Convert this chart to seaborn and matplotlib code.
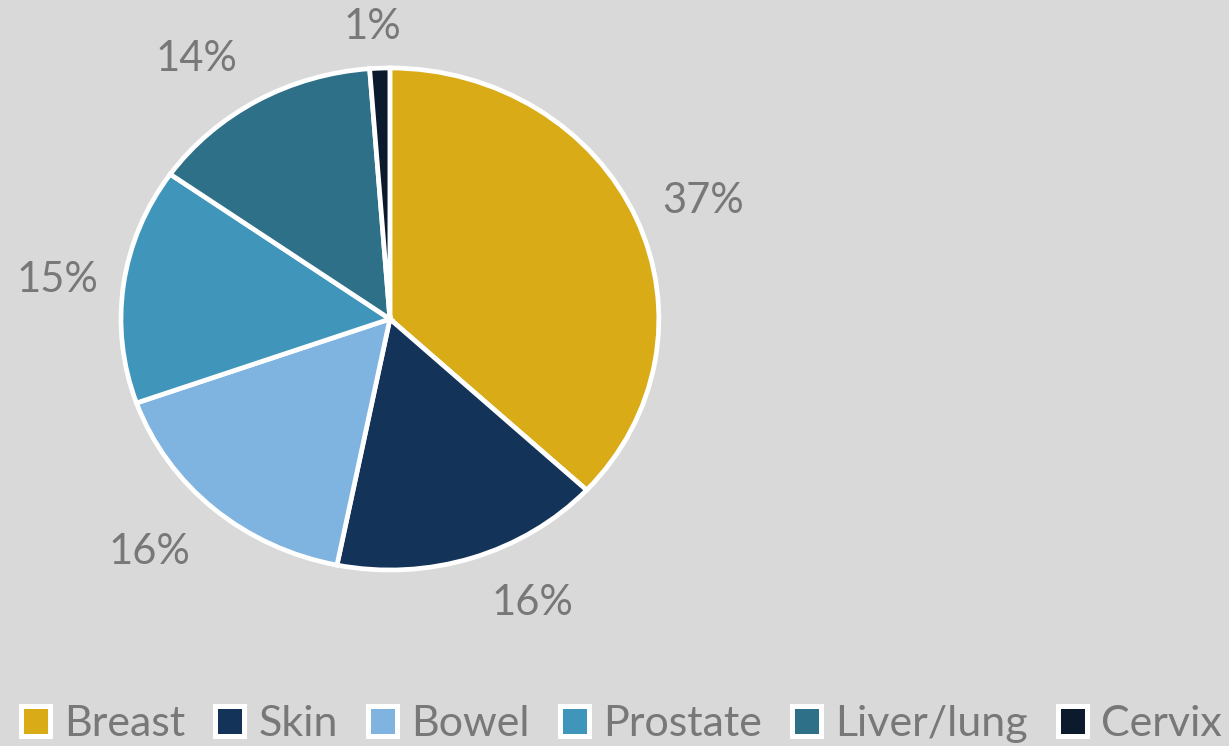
import numpy as np
import matplotlib
matplotlib.use("Agg")
import matplotlib.pyplot as plt
from matplotlib.patches import Patch
import seaborn as sns

# Share of cases by cancer type (percent)
categories = ["Breast", "Skin", "Bowel", "Prostate", "Liver/lung", "Cervix"]
shares = [36.9, 16.2, 16.4, 15.2, 14.0, 1.2]
colors = ["#D8AB17", "#133359", "#7FB3E0", "#4096BA", "#2E7088", "#0C1A2E"]

BG = "#D9D9D9"
TEXT = "#787878"

sns.set_theme(style="white", rc={"figure.facecolor": BG, "axes.facecolor": BG})
plt.rcParams["font.family"] = ["Lato", "DejaVu Sans"]

palette = sns.color_palette(colors)

fig = plt.figure(figsize=(12.29, 7.46), dpi=100)
ax = fig.add_axes([0.0109, 0.1518, 0.6127, 0.8412])

wedges, texts, autotexts = ax.pie(
    shares,
    colors=palette,
    startangle=90,
    counterclock=False,
    autopct="%.0f%%",
    pctdistance=1.25,
    wedgeprops={"edgecolor": "white", "linewidth": 3.4},
    textprops={"color": TEXT, "fontsize": 30},
)

# label placement: radial distance and angular nudge (degrees, clockwise) per slice
label_dist = [1.255, 1.25, 1.29, 1.247, 1.26, 1.165]
label_nudge = [1.6, -7.3, 3.0, -0.6, -5.2, -1.1]
total = sum(shares)
start = 0.0
for t, v, r, d in zip(autotexts, shares, label_dist, label_nudge):
    mid = 360.0 * (start + v / 2) / total + d   # clockwise from 12 o'clock
    a = np.deg2rad(mid)
    t.set_position((r * np.sin(a), r * np.cos(a)))
    start += v

ax.set_aspect("auto")
ax.set_xlim(-1.4, 1.4)
ax.set_ylim(-1.25, 1.25)
ax.axis("off")

handles = [Patch(facecolor=c, edgecolor="white", linewidth=3.6) for c in palette]
fig.legend(
    handles, categories,
    loc="center", bbox_to_anchor=(0.5057, 1 - 724 / 746),
    ncol=6, frameon=False,
    fontsize=31, labelcolor=TEXT,
    handlelength=0.674, handleheight=0.674,
    handletextpad=0.33, columnspacing=0.7, borderaxespad=0,
)

fig.savefig("out.png", dpi=100, facecolor=BG)
